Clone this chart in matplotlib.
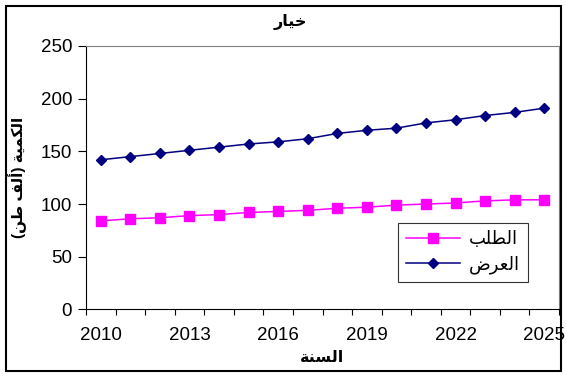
import matplotlib
matplotlib.use("Agg")
import matplotlib.pyplot as plt
from matplotlib.patches import Rectangle

years = list(range(2010, 2026))
supply = [142, 145, 148, 151, 154, 157, 159, 162, 167, 170, 172, 177, 180, 184, 187, 191]
demand = [84, 86, 87, 89, 90, 92, 93, 94, 96, 97, 99, 100, 101, 103, 104, 104]
year_labels = ["2010", "2013", "2016", "2019", "2022", "2025"]

# Arabic text in visual order with presentation forms (no shaping engine in matplotlib)
title_txt = "\uFEAD\uFE8E\uFEF4\uFEA7"                      # خيار
xlabel_txt = "\uFE94\uFEE8\uFEB4\uFEDF\uFE8D"               # السنة
ylabel_txt = "(\uFEE6\uFEC3 \uFED2\uFEDF\uFE83) \uFE94\uFEF4\uFEE4\uFEDC\uFEDF\uFE8D"  # الكمية (ألف طن)
demand_lbl = "\uFE90\uFEE0\uFEC4\uFEDF\uFE8D"               # الطلب
supply_lbl = "\uFEBD\uFEAE\uFECC\uFEDF\uFE8D"               # العرض

fam = ["Liberation Sans", "DejaVu Sans"]
plt.rcParams['font.family'] = fam

fig = plt.figure(figsize=(5.66, 3.76), dpi=100)
W, H = 566, 376
ax = fig.add_axes([86 / W, 1 - 309.4 / H, (559 - 86) / W, (309.4 - 46) / H])

x = list(range(len(years)))
ax.plot(x, demand, color="#FF00FF", marker="s", markersize=6.5, lw=1.1, label=demand_lbl)
ax.plot(x, supply, color="#000080", marker="D", markersize=5.2, lw=1.1, label=supply_lbl)

ax.set_xlim(-0.5, len(years) - 0.5)
ax.set_ylim(0, 250)
ax.set_yticks([0, 50, 100, 150, 200, 250])
ax.tick_params(axis="y", length=6, width=0.8, pad=4, labelsize=13.5, direction="out")

ax.set_xticks([i - 0.5 for i in range(len(years) + 1)])
ax.set_xticklabels([])
ax.tick_params(axis="x", which="major", length=4.5, width=0.8, direction="out")
lab_pos = [years.index(int(s)) for s in year_labels]
ax.set_xticks(lab_pos, minor=True)
ax.set_xticklabels(year_labels, minor=True)
ax.tick_params(axis="x", which="minor", length=0, pad=13, labelsize=13.5)

for s in ["top", "right"]:
    ax.spines[s].set_color("#808080")
for s in ["left", "bottom"]:
    ax.spines[s].set_color("black")

ax.set_xlabel(xlabel_txt, fontsize=11.5, fontweight="bold", labelpad=4)
ax.set_ylabel(ylabel_txt, fontsize=11, fontweight="bold", labelpad=10)
fig.text(290 / W, 1 - 22 / H, title_txt, ha="center", va="center", fontsize=11.5, fontweight="bold")

leg = ax.legend(loc="upper left", bbox_to_anchor=((398 - 86) / (559 - 86), (309.4 - 223) / (309.4 - 46)),
                frameon=True, fancybox=False, edgecolor="black", fontsize=13,
                handlelength=3, borderaxespad=0, borderpad=0.45, labelspacing=0.4,
                handletextpad=0.5)
leg.get_frame().set_linewidth(0.8)

fig.patches.append(Rectangle((6 / W, 5 / H), (561 - 6) / W, (370 - 5) / H, transform=fig.transFigure,
                             fill=False, edgecolor="black", lw=1.5))

fig.savefig("out.png", dpi=100)
